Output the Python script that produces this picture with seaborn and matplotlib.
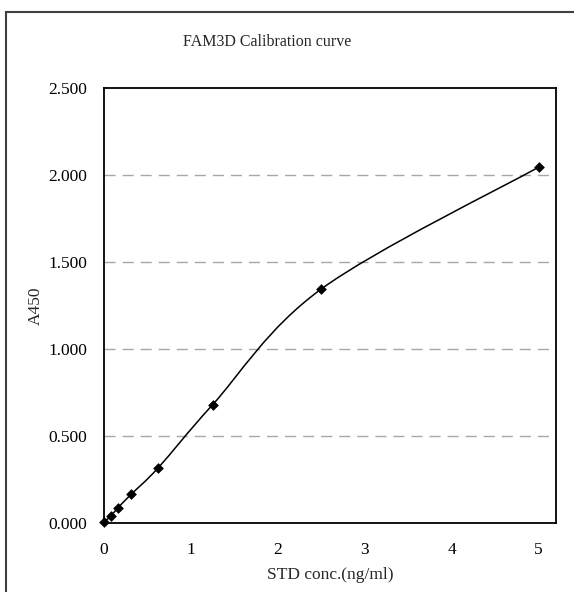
import numpy as np
import pandas as pd
import matplotlib
matplotlib.use('Agg')
import matplotlib.pyplot as plt
from matplotlib.path import Path
from matplotlib.patches import PathPatch, Rectangle
import seaborn as sns

### DATA ###
conc = [0, 0.078, 0.156, 0.3125, 0.625, 1.25, 2.5, 5]  # STD conc. (ng/ml)
a450 = [0.005, 0.040, 0.085, 0.165, 0.318, 0.680, 1.345, 2.045]
y_ticks = [0.0, 0.5, 1.0, 1.5, 2.0, 2.5]
x_ticks = [0, 1, 2, 3, 4, 5]

df = pd.DataFrame({'conc': conc, 'A450': a450})

sns.set_style('white')
plt.rcParams['font.family'] = ['Liberation Serif', 'DejaVu Serif']

fig = plt.figure(figsize=(5.74, 5.92), dpi=100)
ax = fig.add_axes([104/574, 1 - 523/592, (556-104)/574, (523-88)/592])

# smoothed line (catmull-rom style, like excel's smoothed line)
pts = np.column_stack([conc, a450])
verts = [pts[0]]
codes = [Path.MOVETO]
n = len(pts)
for i in range(n - 1):
    p0 = pts[i - 1] if i > 0 else pts[i]
    p1 = pts[i]
    p2 = pts[i + 1]
    p3 = pts[i + 2] if i + 2 < n else pts[i + 1]
    c1 = p1 + (p2 - p0) / 6
    c2 = p2 - (p3 - p1) / 6
    verts += [c1, c2, p2]
    codes += [Path.CURVE4] * 3
ax.add_patch(PathPatch(Path(verts, codes), fill=False, edgecolor='black', lw=1.1, zorder=3))

sns.scatterplot(data=df, x='conc', y='A450', marker='D', s=30, color='black',
                edgecolor='black', linewidth=0, ax=ax, zorder=4, clip_on=False)

ax.set_xlim(0, 5.2)
ax.set_ylim(0, 2.5)
ax.set_xticks(x_ticks)
ax.set_yticks(y_ticks)
ax.set_yticklabels([f'{v:.3f}' for v in y_ticks])
ax.tick_params(direction='in', length=4, width=1, colors='black', labelsize=12.5)
ax.tick_params(axis='y', pad=12)
ax.tick_params(axis='x', pad=14)

for v in y_ticks[1:-1]:
    ax.axhline(v, color='#a8a8a8', lw=1, ls=(0, (8, 5)), zorder=1)

for s in ax.spines.values():
    s.set_color('black')
    s.set_linewidth(1.3)

ax.set_xlabel('STD conc.(ng/ml)', fontsize=12.5, labelpad=6)
ax.set_ylabel('A450', fontsize=12.5, labelpad=3)

fig.text(267/574, 1 - 42/592, 'FAM3D Calibration curve', ha='center', va='center', fontsize=11.5)

# chart area border
fig.patches.append(Rectangle((6/574, -0.05), 1.0, 1 - 12/592 + 0.05, transform=fig.transFigure,
                             fill=False, edgecolor='#404040', lw=1.5))

fig.savefig('out.png', dpi=100)
